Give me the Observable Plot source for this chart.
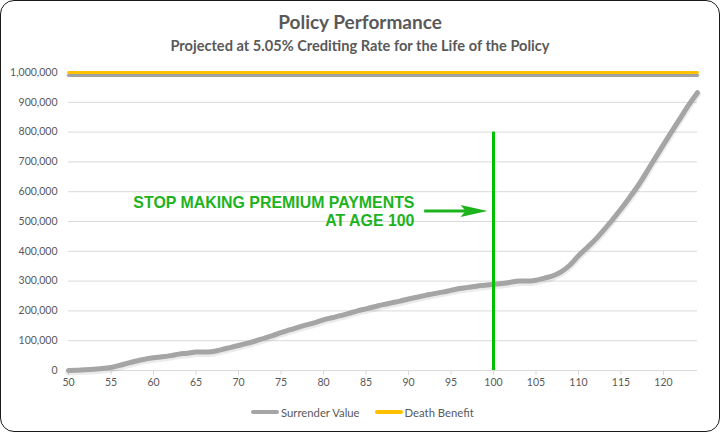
<!DOCTYPE html>
<html>
<head>
<meta charset="utf-8">
<script src="https://cdn.jsdelivr.net/npm/d3@7"></script>
<script src="https://cdn.jsdelivr.net/npm/@observablehq/plot@0.6"></script>
<style>
  body { margin: 0; background: #fff; }
  #wrap { position: relative; width: 720px; height: 432px; overflow: hidden; background: #fff; font-family: Lato, "Open Sans", sans-serif; color: #595959; }
  #frame { position: absolute; left: 0; top: 0; width: 720px; height: 432px; box-sizing: border-box; border: 1.5px solid #1a1a1a; border-radius: 14px; pointer-events: none; }
  #title { position: absolute; left: 0; top: 10px; width: 720px; text-align: center; font-weight: 700; font-size: 19px; line-height: 24px; color: #595959; }
  #subtitle { position: absolute; left: 0; top: 36px; width: 720px; text-align: center; font-weight: 700; font-size: 14.6px; line-height: 20px; color: #595959; }
  #chart { position: absolute; left: 0; top: 56px; }
  #legend { position: absolute; left: 251px; top: 403px; height: 18px; display: flex; align-items: center; font-size: 11.3px; color: #595959; }
  .sw { width: 28px; height: 4px; border-radius: 2px; margin-right: 2px; }
  .item { display: flex; align-items: center; }
</style>
</head>
<body>
<div id="wrap">
  <div id="title">Policy Performance</div>
  <div id="subtitle">Projected at 5.05% Crediting Rate for the Life of the Policy</div>
  <div id="chart"></div>
  <div id="legend"></div>
  <div id="frame"></div>
</div>
<script>
// ---- data ----
const ages = [50,51,52,53,54,55,56,57,58,59,60,61,62,63,64,65,66,67,68,69,70,71,72,73,74,75,76,77,78,79,80,81,82,83,84,85,86,87,88,89,90,91,92,93,94,95,96,97,98,99,100,101,102,103,104,105,106,107,108,109,110,111,112,113,114,115,116,117,118,119,120,121,122,123,124];
const surrenderValue = [0,1000,2500,4500,7000,10000,17000,25000,32000,38000,43000,46000,50000,55000,58000,62000,62000,64000,70000,77000,84000,91000,99000,108000,117000,127000,136000,145000,153000,161000,170000,177000,184000,192000,200000,207000,214000,221000,227000,233000,240000,246000,252000,258000,263000,269000,275000,279000,283000,286000,289000,292000,296000,300000,300000,303000,310000,318000,332000,354000,385000,412000,440000,472000,506000,542000,580000,620000,665000,712000,758000,803000,848000,892000,932000];
const deathBenefit = [1000000,1000000,1000000,1000000,1000000,1000000,1000000,1000000,1000000,1000000,1000000,1000000,1000000,1000000,1000000,1000000,1000000,1000000,1000000,1000000,1000000,1000000,1000000,1000000,1000000,1000000,1000000,1000000,1000000,1000000,1000000,1000000,1000000,1000000,1000000,1000000,1000000,1000000,1000000,1000000,1000000,1000000,1000000,1000000,1000000,1000000,1000000,1000000,1000000,1000000,1000000,1000000,1000000,1000000,1000000,1000000,1000000,1000000,1000000,1000000,1000000,1000000,1000000,1000000,1000000,1000000,1000000,1000000,1000000,1000000,1000000,1000000,1000000,1000000,1000000];
const seriesNames = ["Surrender Value", "Death Benefit"];
const seriesColors = ["#A5A5A5", "#FFC000"];
const xTicks = [50,55,60,65,70,75,80,85,90,95,100,105,110,115,120];
const yTicks = [0,100000,200000,300000,400000,500000,600000,700000,800000,900000,1000000];
// annotation
const stopAge = 100;
const stopRuleTop = 800000;
const annotationLines = ["STOP MAKING PREMIUM PAYMENTS", "AT AGE 100"];
const annotationTextAge = 90.7;
const annotationValue = 535000;
const arrowStartAge = 91.9;
const arrowShaftEndAge = 97;
const arrowTipAge = 99.3;

// ---- build ----
const rows = ages.map((a, i) => ({age: a, sv: surrenderValue[i], db: deathBenefit[i]}));
const green = "#00BE00";
const textGreen = "#1DB31D";
const headSymbol = {
  draw(ctx) {
    ctx.moveTo(0, 0);
    ctx.lineTo(-27, -6);
    ctx.lineTo(-22, 0);
    ctx.lineTo(-27, 6);
    ctx.closePath();
  }
};
const fmt = d3.format(",");

const chart = Plot.plot({
  width: 720,
  height: 340,
  marginLeft: 68,
  marginRight: 23,
  marginTop: 16,
  marginBottom: 26,
  style: {fontFamily: "Lato, 'Open Sans', sans-serif", fontSize: "10.5px", color: "#595959", background: "transparent", overflow: "visible"},
  x: {domain: [50, 124]},
  y: {domain: [0, 1000000]},
  marks: [
    Plot.gridY(yTicks, {stroke: "#d9d9d9", strokeOpacity: 1}),
    Plot.axisY(yTicks, {tickSize: 0, tickPadding: 11, tickFormat: fmt, label: null}),
    Plot.axisX(xTicks, {tickSize: 5, tickPadding: 3, stroke: "#d9d9d9", strokeOpacity: 1, label: null, tickFormat: d => String(d)}),
    Plot.ruleY([0], {stroke: "#d9d9d9"}),
    // death benefit shadow + line
    Plot.line(rows, {x: "age", y: "db", stroke: "#7a7a7a", strokeOpacity: 0.7, strokeWidth: 3.2, dy: 2.8}),
    Plot.line(rows, {x: "age", y: "db", stroke: seriesColors[1], strokeWidth: 2.8}),
    // surrender value shadow + line
    Plot.line(rows, {x: "age", y: "sv", stroke: "#000", strokeOpacity: 0.08, strokeWidth: 7, dy: 1.5, curve: "monotone-x"}),
    Plot.line(rows, {x: "age", y: "sv", stroke: seriesColors[0], strokeWidth: 5, curve: "monotone-x", strokeLinejoin: "round"}),
    // annotation
    Plot.ruleX([stopAge], {y1: 0, y2: stopRuleTop, stroke: green, strokeWidth: 3}),
    Plot.ruleY([annotationValue], {x1: arrowStartAge, x2: arrowShaftEndAge, stroke: textGreen, strokeWidth: 3}),
    Plot.dot([arrowTipAge], {x: d => d, y: () => annotationValue, symbol: headSymbol, fill: textGreen, stroke: "none", r: 5}),
    Plot.text([annotationLines.join("\n")], {
      x: () => annotationTextAge, y: () => annotationValue, text: d => d,
      textAnchor: "end", lineAnchor: "middle", lineHeight: 1.13,
      fill: textGreen, fontWeight: 700, fontSize: 15.9, fontFamily: "'Liberation Sans', Arial, sans-serif"
    })
  ]
});
document.getElementById("chart").append(chart);

// legend
const legend = document.getElementById("legend");
seriesNames.forEach((name, i) => {
  const item = document.createElement("div");
  item.className = "item";
  if (i > 0) item.style.marginLeft = "15px";
  const sw = document.createElement("div");
  sw.className = "sw";
  sw.style.background = seriesColors[i];
  const label = document.createElement("span");
  label.textContent = name;
  item.append(sw, label);
  legend.append(item);
});
</script>
</body>
</html>
